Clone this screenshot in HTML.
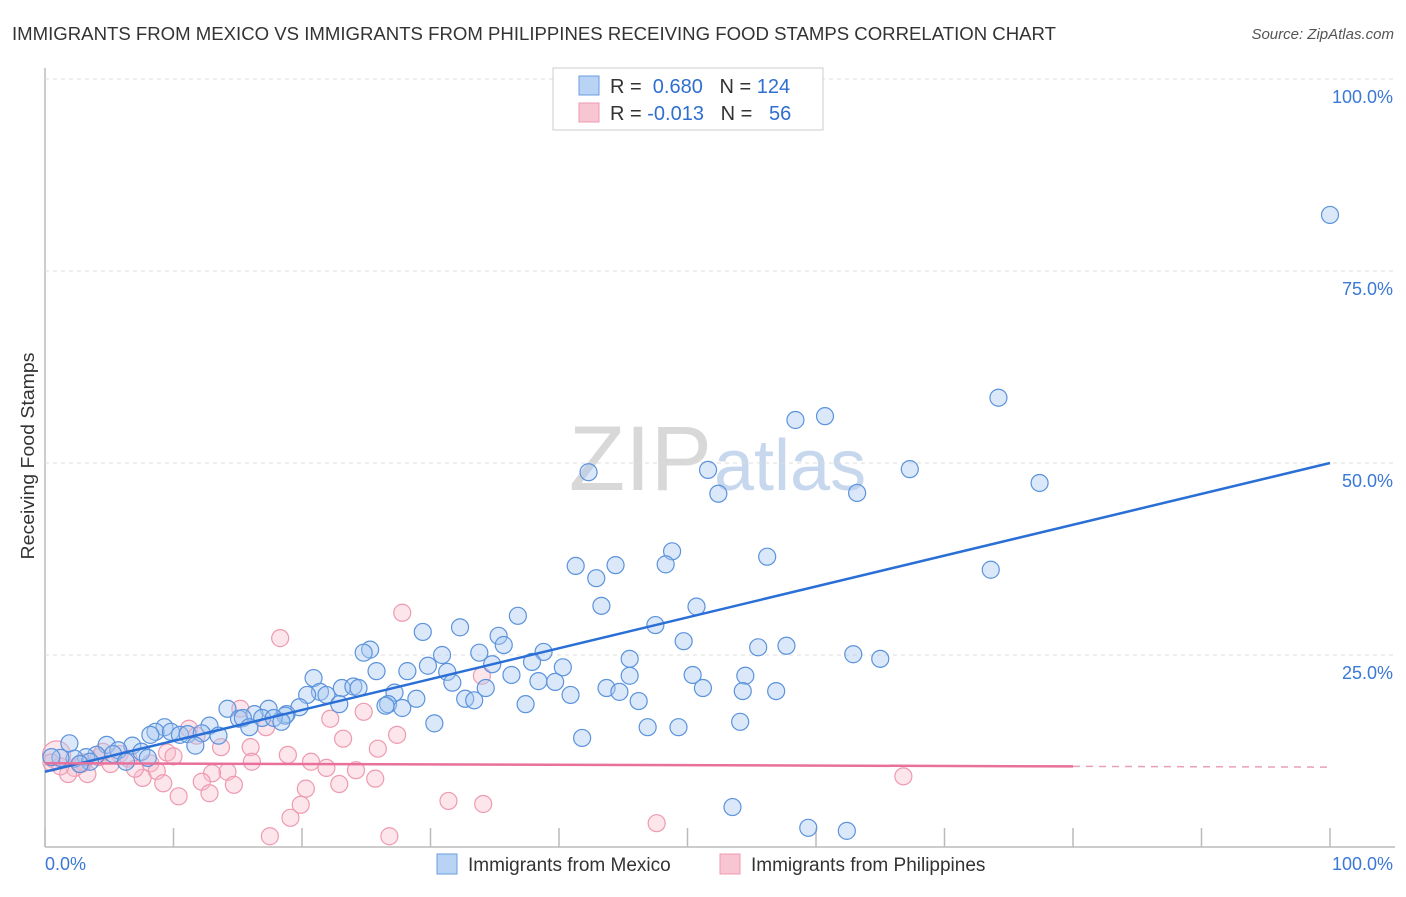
<!DOCTYPE html>
<html><head><meta charset="utf-8"><style>
body{margin:0;background:#fff;font-family:"Liberation Sans",sans-serif}
svg text{font-family:"Liberation Sans",sans-serif}
</style></head><body>
<svg id="c" width="1406" height="892">
<text x="12" y="40" font-size="18" fill="#333" textLength="1044" lengthAdjust="spacingAndGlyphs">IMMIGRANTS FROM MEXICO VS IMMIGRANTS FROM PHILIPPINES RECEIVING FOOD STAMPS CORRELATION CHART</text>
<text x="1394" y="39" font-size="15" fill="#555" font-style="italic" text-anchor="end">Source: ZipAtlas.com</text>
<text x="712" y="490" font-size="92" fill="#d8d8d8" text-anchor="end" font-family="Liberation Serif">ZIP</text>
<text x="714" y="490" font-size="72" fill="#c7d8ee">atlas</text>
<text transform="translate(34,456) rotate(-90)" font-size="18" fill="#333" text-anchor="middle" textLength="207" lengthAdjust="spacingAndGlyphs">Receiving Food Stamps</text>
<g id="grid"></g><g id="pts"></g><g id="lines"></g>
<g>
<rect x="553" y="68" width="270" height="62" fill="#fff" stroke="#ccc"/>
<rect x="579" y="76" width="20" height="19" fill="#b8d3f3" stroke="#6a9de0"/>
<rect x="579" y="103" width="20" height="19" fill="#f8c6d3" stroke="#ee9ab0"/>
<text x="610" y="93" font-size="20" fill="#333">R = <tspan fill="#2f6fd0">&#160;0.680</tspan>&#160;&#160;&#160;N = <tspan fill="#2f6fd0">124</tspan></text>
<text x="610" y="120" font-size="20" fill="#333">R = <tspan fill="#2f6fd0">-0.013</tspan>&#160;&#160;&#160;N = <tspan fill="#2f6fd0">&#160;&#160;56</tspan></text>
</g>
<g>
<rect x="437" y="854" width="20" height="20" fill="#b8d3f3" stroke="#6a9de0"/>
<text x="468" y="871" font-size="19" fill="#333">Immigrants from Mexico</text>
<rect x="720" y="854" width="20" height="20" fill="#f8c6d3" stroke="#ee9ab0"/>
<text x="751" y="871" font-size="19" fill="#333">Immigrants from Philippines</text>
</g>
</svg>
<script>
const yTicks=[25,50,75,100];
const yTickLabels=["25.0%","50.0%","75.0%","100.0%"];
const xTickLabels=["0.0%","100.0%"];
const mexX=[100,74.2,60.7,58.4,67.3,77.4,42.3,51.6,52.4,63.2,73.6,56.2,48.8,48.3,41.3,44.4,42.9,43.3,50.7,36.8,47.5,49.7,55.5,57.7,62.9,65.0,32.3,29.4,35.3,35.7,25.3,24.8,30.9,33.8,38.8,45.5,37.9,40.3,34.8,25.8,28.2,29.8,31.3,45.5,36.3,38.4,39.7,50.4,54.5,31.7,20.9,34.3,43.7,44.7,51.2,54.3,56.9,40.9,27.2,21.4,21.9,23.1,24.0,24.4,20.4,28.9,32.7,33.4,46.2,26.7,26.5,22.9,27.8,37.4,19.8,14.2,17.4,16.3,18.8,18.7,16.9,15.1,15.4,17.8,18.4,30.3,54.1,46.9,49.3,12.8,15.9,9.3,8.6,9.8,10.5,11.1,12.2,13.5,8.2,11.7,41.8,1.9,4.8,6.8,5.7,7.5,5.3,4.0,3.2,2.3,8.0,1.2,0.5,6.3,3.5,2.7,53.5,59.4,62.4];
const mexY=[82.3,58.5,56.1,55.6,49.2,47.4,48.8,49.1,46.0,46.1,36.1,37.8,38.5,36.8,36.6,36.7,35.0,31.4,31.3,30.1,28.9,26.8,26.0,26.2,25.1,24.5,28.6,28.0,27.5,26.3,25.7,25.3,25.0,25.3,25.4,24.5,24.1,23.4,23.8,22.9,22.9,23.6,22.8,22.3,22.4,21.6,21.5,22.4,22.3,21.4,22.0,20.7,20.7,20.2,20.7,20.3,20.3,19.8,20.1,20.2,19.8,20.7,20.9,20.7,19.8,19.3,19.3,19.1,19.0,18.6,18.4,18.6,18.1,18.6,18.2,18.0,18.0,17.3,17.3,17.1,16.8,16.7,16.8,16.8,16.3,16.1,16.3,15.6,15.6,15.8,15.6,15.6,15.0,15.0,14.6,14.7,14.8,14.5,14.6,13.2,14.2,13.5,13.3,13.2,12.6,12.4,12.1,12.0,11.7,11.5,11.6,11.6,11.7,11.1,11.1,10.8,5.2,2.5,2.1];
const phiX=[27.8,18.3,34.0,22.2,24.8,15.2,17.2,11.2,27.4,23.2,13.7,16.0,25.9,18.9,4.2,5.8,16.1,20.7,8.2,0.9,2.3,5.1,8.7,21.9,24.2,14.2,13.0,7.6,3.3,1.8,25.7,12.2,9.2,14.7,22.9,20.3,12.8,10.4,66.8,31.4,34.1,19.9,19.1,47.6,17.5,26.8,6.5,9.5,11.8,3.0,1.2,7.0,10.0,4.5,0.5,2.8];
const phiY=[30.5,27.2,22.3,16.7,17.6,18.0,15.6,15.4,14.6,14.1,13.0,13.0,12.8,12.0,11.7,12.1,11.1,11.1,10.9,12.0,10.3,10.8,9.9,10.3,10.0,9.8,9.6,9.0,9.5,9.5,8.9,8.5,8.3,8.1,8.2,7.6,7.0,6.6,9.2,6.0,5.6,5.5,3.8,3.1,1.4,1.4,11.5,12.3,14.5,11.0,10.5,10.2,11.8,12.4,11.0,10.8];
const mexTrend=[9.8,50.0];
const phiTrend=[10.9,10.4];
const NS='http://www.w3.org/2000/svg';
const X=v=>45+v*12.85, Y=v=>847-v*7.68;
function mk(tag,at,parent){const e=document.createElementNS(NS,tag);for(const k in at)e.setAttribute(k,at[k]);document.getElementById(parent).appendChild(e);return e;}
let ax=mk('line',{x1:45,y1:68,x2:45,y2:847,stroke:'#bbb','stroke-width':1.5},'grid');


let bx=mk('line',{x1:45,y1:847,x2:1395,y2:847,stroke:'#bbb','stroke-width':1.5},'grid');


for(let i=0;i<=10;i++){const t=mk('line',{x1:X(i*10),y1:828,x2:X(i*10),y2:847,stroke:'#bbb','stroke-width':1.5},'grid');

}
yTicks.forEach((v,i)=>{const g=mk('line',{x1:45,y1:Y(v),x2:1395,y2:Y(v),stroke:'#ddd','stroke-dasharray':'4,4'},'grid');


const t=mk('text',{x:1393,y:Y(v)+24,'font-size':18,fill:'#3a78d6','text-anchor':'end'},'grid');t.textContent=yTickLabels[i];

});
[[45,'start'],[1393,'end']].forEach((p,i)=>{const t=mk('text',{x:p[0],y:870,'font-size':18,fill:'#3a78d6','text-anchor':p[1]},'grid');t.textContent=xTickLabels[i];

});
phiX.forEach((x,i)=>{const c=mk('circle',{cx:X(x),cy:Y(phiY[i]),r:i==19?14:8.5,fill:'rgba(248,190,205,0.4)',stroke:'#ee9ab0','stroke-width':1.2},'pts');

});
mexX.forEach((x,i)=>{const c=mk('circle',{cx:X(x),cy:Y(mexY[i]),r:8.5,fill:'rgba(170,200,240,0.42)',stroke:'#5b93dc','stroke-width':1.2},'pts');

});
let l1=mk('line',{x1:X(0),y1:Y(mexTrend[0]),x2:X(100),y2:Y(mexTrend[1]),stroke:'#2a6fd6','stroke-width':2.5},'lines');


const pm=v=>phiTrend[0]+(phiTrend[1]-phiTrend[0])*v/100;
let l2=mk('line',{x1:X(0),y1:Y(pm(0)),x2:X(80),y2:Y(pm(80)),stroke:'#e8709a','stroke-width':2.5},'lines');


let l3=mk('line',{x1:X(80),y1:Y(pm(80)),x2:X(100),y2:Y(pm(100)),stroke:'#e8a0b8','stroke-width':1.5,'stroke-dasharray':'7,6'},'lines');


</script>
</body></html>
